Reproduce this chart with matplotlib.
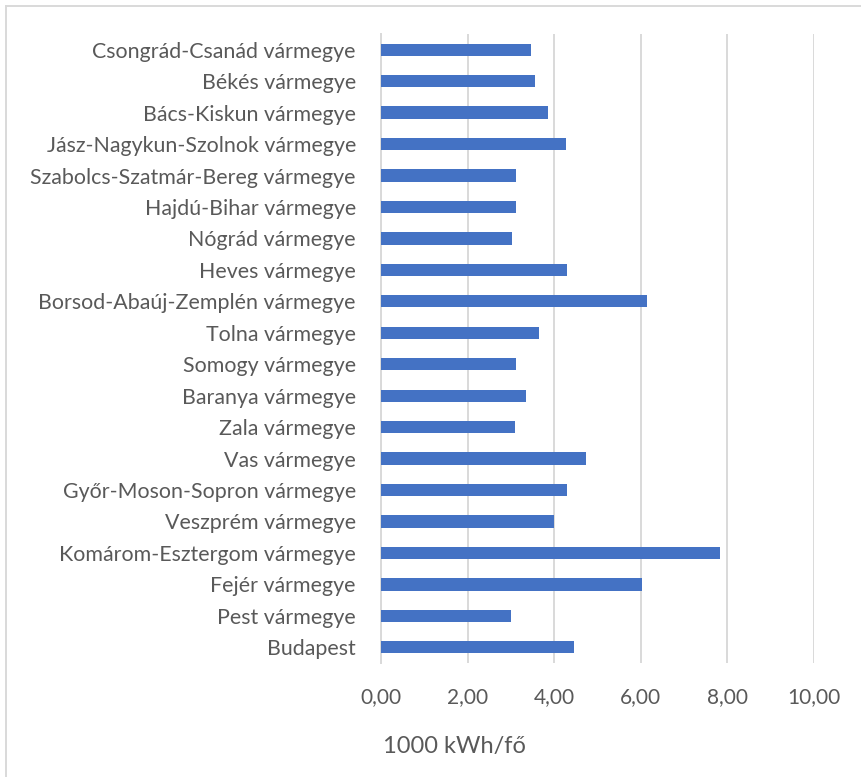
import matplotlib
matplotlib.use("Agg")
import matplotlib.pyplot as plt
from matplotlib.lines import Line2D

# Regional electricity consumption per capita (1000 kWh / person)
regions = [
    "Budapest",
    "Pest vármegye",
    "Fejér vármegye",
    "Komárom-Esztergom vármegye",
    "Veszprém vármegye",
    "Győr-Moson-Sopron vármegye",
    "Vas vármegye",
    "Zala vármegye",
    "Baranya vármegye",
    "Somogy vármegye",
    "Tolna vármegye",
    "Borsod-Abaúj-Zemplén vármegye",
    "Heves vármegye",
    "Nógrád vármegye",
    "Hajdú-Bihar vármegye",
    "Szabolcs-Szatmár-Bereg vármegye",
    "Jász-Nagykun-Szolnok vármegye",
    "Bács-Kiskun vármegye",
    "Békés vármegye",
    "Csongrád-Csanád vármegye",
]
consumption = [4.47, 3.01, 6.03, 7.83, 4.00, 4.29, 4.74, 3.09, 3.36, 3.13,
               3.66, 6.14, 4.29, 3.03, 3.12, 3.11, 4.27, 3.86, 3.57, 3.46]
x_ticks = [0, 2, 4, 6, 8, 10]
x_title = "1000 kWh/fő"

plt.rcParams["font.family"] = ["Lato", "DejaVu Sans"]
text_color = "#595959"
grid_color = "#d9d9d9"
bar_color = "#4472c4"

W, H = 862, 777
fig = plt.figure(figsize=(W / 100, H / 100), dpi=100)

# plot area in pixel coordinates
left, right, top, bottom = 381, 813.7, 34, 663
ax = fig.add_axes([left / W, 1 - bottom / H, (right - left) / W, (bottom - top) / H])

y = range(len(regions))
ax.barh(y, consumption, height=0.39, color=bar_color, zorder=3)
ax.set_ylim(-0.5, len(regions) - 0.5)
ax.set_xlim(0, 10)

ax.set_xticks(x_ticks)
ax.set_xticklabels([f"{v:.2f}".replace(".", ",") for v in x_ticks])
ax.set_yticks(list(y))
ax.set_yticklabels(regions)

ax.grid(axis="x", color=grid_color, linewidth=1.4, zorder=0)
for s in ["top", "right", "bottom"]:
    ax.spines[s].set_visible(False)
ax.spines["left"].set_color(grid_color)
ax.spines["left"].set_linewidth(1.4)

ax.tick_params(axis="both", length=0, colors=text_color)
ax.tick_params(axis="x", labelsize=15, pad=17)
ax.tick_params(axis="y", labelsize=15.4, pad=18)

fig.text(454 / W, 1 - 753 / H, x_title, ha="center", va="baseline",
         fontsize=17, color=text_color)

# chart-area frame (top and left edges)
fig.add_artist(Line2D([6 / W, 1], [1 - 5.5 / H, 1 - 5.5 / H],
                      transform=fig.transFigure, color=grid_color, linewidth=1.4))
fig.add_artist(Line2D([6 / W, 6 / W], [0, 1 - 5.5 / H],
                      transform=fig.transFigure, color=grid_color, linewidth=1.4))

fig.savefig("out.png", dpi=100)
